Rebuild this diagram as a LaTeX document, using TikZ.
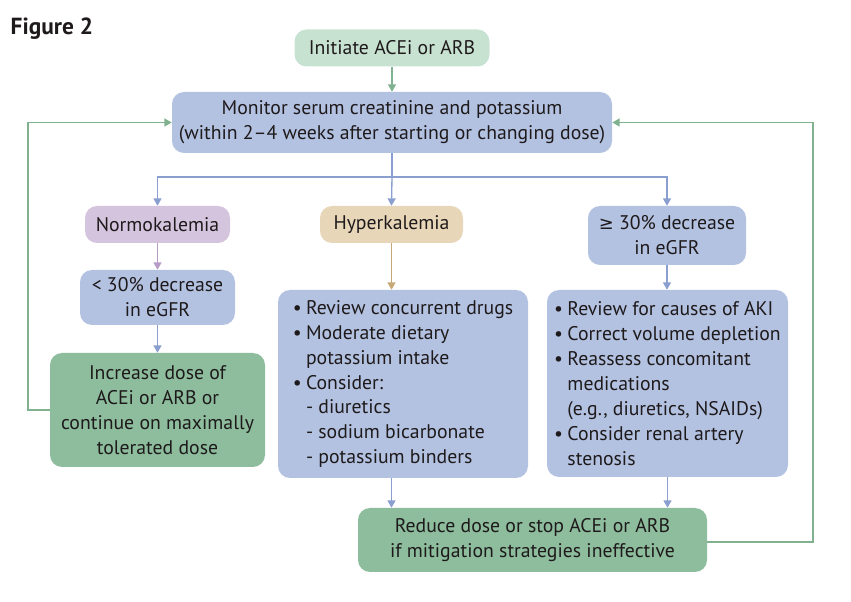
\documentclass[tikz,border=0pt]{standalone}
\usepackage{fontspec}
\setmainfont{PT Sans}
\usetikzlibrary{arrows.meta}
\definecolor{boxblue}{HTML}{B4C2E2}
\definecolor{boxgreen}{HTML}{8DBD9D}
\definecolor{boxlgreen}{HTML}{C8E2D2}
\definecolor{boxpurple}{HTML}{D5C4DE}
\definecolor{boxtan}{HTML}{E8D6B8}
\definecolor{lnblue}{HTML}{8A9FCF}
\definecolor{lngreen}{HTML}{80B28F}
\definecolor{lnpurple}{HTML}{B79CC8}
\definecolor{lntan}{HTML}{C9A878}
\definecolor{txt}{HTML}{1E1A1B}
\tikzset{
  base/.style={rounded corners=9pt, inner sep=0pt, text=txt, font=\fontsize{14.8}{18.7}\selectfont},
  bluebox/.style={base, fill=boxblue},
  greenbox/.style={base, fill=boxgreen},
  arr/.style={-{Triangle[width=6pt,length=5.5pt]}, line width=1pt},
  fb/.style={lngreen, line width=1.1pt}
}
\newcommand{\bul}{\textbullet\hspace{0.22em}}
\newcommand{\ind}{\hphantom{\textbullet\hspace{0.22em}}}
\begin{document}
\begin{tikzpicture}[x=0.75pt,y=-0.75pt]
\useasboundingbox (0,0) rectangle (851,602);
\fill[white] (0,0) rectangle (851,602);
\node[anchor=west, text=txt, font=\fontsize{17.5}{20}\selectfont\bfseries] (fig) at (6,29) {Figure 2};
\node[base, fill=boxlgreen, minimum width=195*0.75pt, minimum height=37*0.75pt] (init) at (392,48) {Initiate ACEi or ARB};
\node[bluebox, minimum width=440*0.75pt, minimum height=61*0.75pt, align=center] (mon) at (392,122.5) {Monitor serum creatinine and potassium\\(within 2--4 weeks after starting or changing dose)};
\node[base, fill=boxpurple, minimum width=145*0.75pt, minimum height=37*0.75pt] (normo) at (157.5,224.5) {Normokalemia};
\node[base, fill=boxtan, minimum width=143*0.75pt, minimum height=37*0.75pt] (hyper) at (391.5,224.5) {Hyperkalemia};
\node[bluebox, minimum width=158*0.75pt, minimum height=59*0.75pt, align=center] (ge) at (667,235.5) {\fontspec{DejaVu Sans}\fontsize{13.4}{18.7}\selectfont≥\fontspec{PT Sans}\fontsize{14.8}{18.7}\selectfont{} 30\% decrease\\in eGFR};
\node[bluebox, minimum width=155*0.75pt, minimum height=55*0.75pt, align=center] (lt) at (157.5,297.5) {< 30\% decrease\\in eGFR};
\node[greenbox, minimum width=215*0.75pt, minimum height=114*0.75pt, align=center] (inc) at (157.5,410) {Increase dose of\\ACEi or ARB or\\continue on maximally\\tolerated dose};
\node[bluebox, minimum width=250*0.75pt, minimum height=188*0.75pt, align=left] (hl) at (403,384) {\bul Review concurrent drugs\\\bul Moderate dietary\\\ind potassium intake\\\bul Consider:\\\ind- diuretics\\\ind- sodium bicarbonate\\\ind- potassium binders};
\node[bluebox, minimum width=241*0.75pt, minimum height=187*0.75pt, align=left] (al) at (667.5,383.5) {\bul Review for causes of AKI\\\bul Correct volume depletion\\\bul Reassess concomitant\\\ind medications\\\ind (e.g., diuretics, NSAIDs)\\\bul Consider renal artery\\\ind stenosis};
\node[greenbox, minimum width=349*0.75pt, minimum height=64*0.75pt, align=center] (red) at (532.5,540) {Reduce dose or stop ACEi or ARB\\if mitigation strategies ineffective};
% connectors
\draw[arr, lngreen] (init) -- (mon);
\coordinate (split) at (392,177);
\draw[lnblue, line width=1pt] (mon.south) -- (split);
\draw[arr, lnblue] (split) -| (normo.north);
\draw[arr, lnblue] (split) -- (hyper.north);
\draw[arr, lnblue] (split) -| (ge.north);
\draw[arr, lnpurple] (normo) -- (lt);
\draw[arr, lnblue] (lt) -- (inc);
\draw[arr, lntan] (hyper.south) -- (hyper.south |- hl.north);
\draw[arr, lnblue] (ge) -- (ge.south |- al.north);
\draw[arr, lnblue] (hyper.south |- hl.south) -- (hyper.south |- red.north);
\draw[arr, lnblue] (al.south) -- (al.south |- red.north);
\coordinate (lfb) at (28,410);
\coordinate (rfb) at (813,542);
\draw[fb, -{Triangle[width=6pt,length=5.5pt]}] (inc.west) -- (lfb) |- (mon.west);
\draw[fb, -{Triangle[width=6pt,length=5.5pt]}] (red.east |- rfb) -- (rfb) |- (mon.east);
\end{tikzpicture}
\end{document}
